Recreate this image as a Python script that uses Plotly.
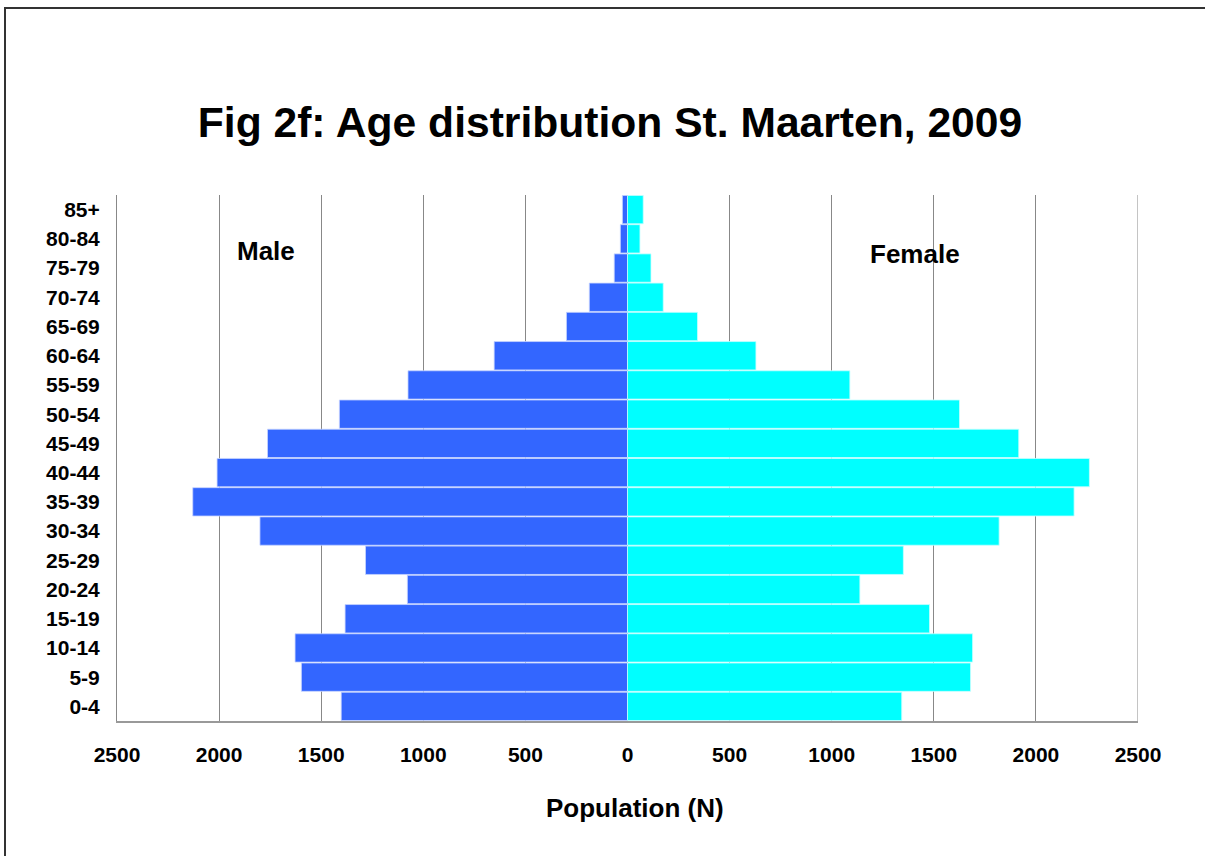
import plotly.graph_objects as go

# age groups, bottom to top
age_groups = ["0-4", "5-9", "10-14", "15-19", "20-24", "25-29", "30-34", "35-39",
              "40-44", "45-49", "50-54", "55-59", "60-64", "65-69", "70-74",
              "75-79", "80-84", "85+"]

male = [1402, 1597, 1628, 1383, 1078, 1283, 1800, 2129,
        2010, 1763, 1411, 1075, 653, 299, 187, 65, 35, 25]

female = [1343, 1680, 1690, 1479, 1138, 1351, 1820, 2187,
          2262, 1916, 1626, 1089, 629, 343, 175, 115, 61, 77]

tick_vals = [-2500, -2000, -1500, -1000, -500, 0, 500, 1000, 1500, 2000, 2500]
tick_text = [str(abs(v)) for v in tick_vals]

FONT = "Liberation Sans, Arial, sans-serif"

W, H = 1205, 856
ML, MT, MR, MB = 117, 195, 67, 135
plot_w = W - ML - MR
plot_h = H - MT - MB

fig = go.Figure()
fig.add_trace(go.Bar(
    y=age_groups, x=[-v for v in male], customdata=male,
    orientation="h", name="Male",
    marker=dict(color="#3366FF", line=dict(color="#c8d4ff", width=0.8)),
    hovertemplate="Male %{y}: %{customdata}<extra></extra>",
))
fig.add_trace(go.Bar(
    y=age_groups, x=female,
    orientation="h", name="Female",
    marker=dict(color="#00FFFF", line=dict(color="#c8ffff", width=0.8)),
    hovertemplate="Female %{y}: %{x}<extra></extra>",
))

fig.update_layout(
    width=W, height=H,
    barmode="relative", bargap=0.03,
    showlegend=False,
    paper_bgcolor="white", plot_bgcolor="white",
    font=dict(family=FONT, color="black", size=21),
    margin=dict(l=ML, r=MR, t=MT, b=MB),
    title=dict(
        text="<b>Fig 2f: Age distribution St. Maarten, 2009</b>",
        x=610 / W, xanchor="center", y=1 - 122 / H, yanchor="middle",
        font=dict(size=42.6, family=FONT),
    ),
)

fig.update_xaxes(
    range=[-2500, 2500], tickvals=tick_vals, ticktext=tick_text,
    tickfont=dict(size=21, family=FONT, weight="bold"),
    showgrid=True, gridcolor="#888888", gridwidth=1,
    zeroline=True, zerolinecolor="#888888", zerolinewidth=1,
    showline=True, linecolor="#999999", linewidth=2,
    ticks="", ticklabelstandoff=14,
)
fig.update_yaxes(
    type="category", categoryorder="array", categoryarray=age_groups,
    tickfont=dict(size=21, family=FONT, weight="bold"),
    showgrid=False, showline=True, linecolor="#888888", linewidth=1,
    ticks="", ticklabelstandoff=12,
)

# right frame edge at 2500
fig.add_shape(type="line", xref="x", yref="paper", x0=2500, x1=2500, y0=0, y1=1,
              line=dict(color="#888888", width=1))

# outer frame (chart is cropped at right and bottom)
fig.add_shape(type="rect", xref="paper", yref="paper",
              x0=(5 - ML) / plot_w, x1=1.3, y0=-0.6, y1=(MT + plot_h - 8) / plot_h,
              line=dict(color="#333333", width=2), layer="below")

fig.add_annotation(text="<b>Population (N)</b>", xref="paper", yref="paper",
                   x=(635 - ML) / plot_w, y=(MT + plot_h - 808) / plot_h,
                   xanchor="center", yanchor="middle", showarrow=False,
                   font=dict(size=26, family=FONT))
fig.add_annotation(text="<b>Male</b>", x=-1770, y=0.925, xref="x", yref="paper",
                   showarrow=False, font=dict(size=26, family=FONT))
fig.add_annotation(text="<b>Female</b>", x=1410, y=0.921, xref="x", yref="paper",
                   showarrow=False, font=dict(size=26, family=FONT))

# drop the browser's default body margin so the figure fills the window
fig.write_html("out.html", config={"displayModeBar": False},
               post_script="document.body.style.margin = '0';")
